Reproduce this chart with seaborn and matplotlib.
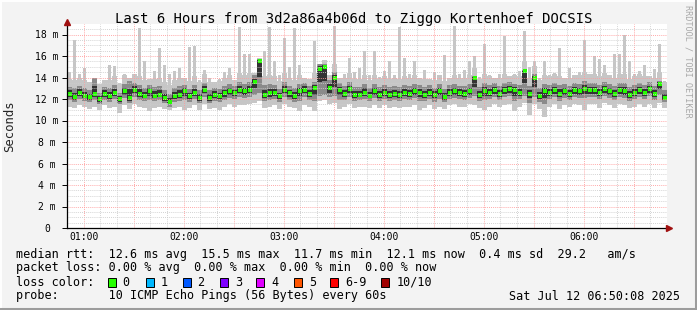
import numpy as np
import pandas as pd
import matplotlib
matplotlib.use('Agg')
import matplotlib.pyplot as plt
import seaborn as sns
from matplotlib.patches import Rectangle
from matplotlib.lines import Line2D

# ---------------- data ----------------
step_min = 3
start_min = 50
n_steps = 120
minutes = start_min + step_min * np.arange(n_steps)

median = [12.5,12.2,12.6,12.3,12.15,12.5,12.0,12.5,12.3,12.55,
          12.0,12.7,12.1,12.85,12.5,12.3,12.7,12.3,12.4,12.1,
          11.7,12.3,12.4,12.7,12.25,12.55,12.1,12.85,12.1,12.4,
          12.25,12.55,12.7,12.55,12.85,12.7,12.85,13.6,15.5,12.4,
          12.55,12.55,12.25,12.85,12.55,12.25,12.7,12.85,12.5,13.0,
          14.8,15.0,13.0,14.0,12.8,12.5,12.9,12.4,12.4,12.6,
          12.3,12.7,12.4,12.6,12.4,12.5,12.4,12.6,12.5,12.7,
          12.6,12.4,12.6,12.4,12.7,12.2,12.6,12.7,12.6,12.5,
          12.7,14.0,12.4,12.7,12.6,12.8,12.5,12.8,12.9,12.8,
          12.6,14.6,12.5,14.0,12.3,12.7,12.6,12.8,12.5,12.7,
          12.5,12.8,12.7,12.9,12.8,12.8,12.6,12.9,12.7,12.5,
          12.8,12.7,12.4,12.6,12.8,12.6,12.9,12.5,13.4,12.1]

ping_min = [11.3,11.2,11.4,11.3,11.1,11.3,11.0,11.4,11.2,11.3,
            10.7,11.4,11.1,11.5,11.3,11.2,10.9,11.2,11.3,11.1,
            11.0,11.2,11.3,11.0,11.2,11.4,11.0,11.5,11.1,11.2,
            11.0,11.3,11.5,11.3,11.4,11.4,11.5,11.6,11.8,11.2,
            11.3,11.4,11.1,11.5,11.3,11.2,10.9,11.4,11.3,10.9,
            11.8,11.9,11.5,11.6,11.1,11.3,11.5,11.2,11.3,11.3,
            11.2,11.4,11.2,11.4,11.2,11.3,11.2,11.3,11.3,11.4,
            11.0,11.2,11.4,11.1,11.3,11.1,11.4,11.5,11.3,11.3,
            11.5,11.4,11.2,11.0,11.3,11.5,11.3,11.4,11.5,10.9,
            11.3,11.6,10.5,11.5,11.1,10.3,11.3,11.5,11.1,11.4,
            11.3,11.5,11.4,11.0,11.5,11.5,11.2,11.6,11.4,11.2,
            11.5,11.4,11.2,11.3,11.5,11.3,11.5,11.2,11.6,11.2]

ping_lowq = [11.9,11.7,12.0,11.8,11.7,11.9,11.5,11.9,11.7,12.0,
             11.5,12.1,11.6,12.2,11.9,11.8,11.9,11.8,11.9,11.6,
             11.3,11.7,11.8,11.9,11.7,12.0,11.6,12.2,11.6,11.8,
             11.7,11.9,12.1,12.0,12.2,12.1,12.2,12.4,12.6,11.8,
             11.9,12.0,11.7,12.2,11.9,11.7,11.8,12.2,11.9,11.8,
             12.3,12.4,12.2,12.3,11.9,11.9,12.2,11.8,11.9,12.0,
             11.8,12.1,11.8,12.0,11.8,11.9,11.8,12.0,11.9,12.1,
             11.8,11.8,12.0,11.7,12.0,11.7,12.0,12.1,12.0,11.9,
             12.1,12.3,11.8,11.9,12.0,12.2,11.9,12.2,12.3,11.8,
             12.0,12.3,11.6,12.2,11.7,11.5,12.0,12.2,11.8,12.1,
             11.9,12.2,12.1,12.1,12.2,12.2,12.0,12.3,12.1,11.9,
             12.2,12.1,11.8,12.0,12.2,12.0,12.3,11.9,12.4,11.7]

ping_highq = [13.1,13.0,13.2,13.0,12.8,14.0,12.6,13.1,13.0,13.3,
              12.6,13.4,13.7,13.5,13.3,13.0,13.3,13.1,13.2,12.8,
              12.5,13.0,13.2,13.3,12.9,13.3,12.8,13.5,12.8,13.0,
              12.9,13.2,13.4,13.2,13.6,13.4,13.6,14.2,15.7,13.3,
              13.4,13.3,12.9,13.6,13.2,13.0,13.4,13.5,13.2,13.6,
              15.3,15.3,13.8,14.5,13.5,13.2,13.6,13.1,13.1,13.4,
              13.0,13.4,13.1,13.3,13.1,13.2,13.1,13.3,13.2,13.4,
              13.3,13.1,13.3,13.0,13.4,12.9,13.3,13.4,13.2,13.2,
              13.4,14.1,13.1,13.5,13.3,13.5,13.2,13.5,13.6,13.4,
              13.3,14.7,13.2,14.3,13.0,13.4,13.3,13.5,13.3,13.4,
              13.2,13.5,13.4,13.7,13.5,13.5,13.3,13.6,13.4,13.2,
              13.5,13.5,13.1,13.3,13.5,13.3,13.6,13.2,13.7,12.8]

ping_max = [14.5,17.5,14.3,14.9,13.6,14.0,13.4,13.8,15.2,15.1,
            13.5,14.3,14.0,14.3,18.6,15.5,13.9,14.6,16.7,15.2,
            14.3,14.6,14.9,14.0,16.8,16.9,13.8,14.7,14.0,13.6,
            13.9,14.5,14.9,13.8,18.7,16.2,16.2,14.4,15.8,16.5,
            18.7,15.5,14.2,17.7,15.0,18.6,15.2,14.0,13.9,17.4,
            15.3,15.6,14.2,18.8,14.0,14.3,15.8,14.5,14.9,16.5,
            14.2,16.5,14.0,14.6,15.5,14.2,18.7,15.8,14.3,15.5,
            14.0,14.7,13.9,14.5,14.2,16.1,14.0,18.8,14.3,14.7,
            15.5,16.0,14.0,17.1,14.2,14.0,14.3,17.9,14.1,14.3,
            14.6,18.3,15.0,15.5,14.0,15.5,14.2,14.4,16.7,14.0,
            14.9,14.2,14.5,17.5,14.3,16.0,15.7,15.2,14.2,16.2,
            16.2,18.0,15.5,14.3,14.6,15.2,14.1,14.8,17.1,13.7]

x_tick_minutes = [60, 120, 180, 240, 300, 360]
x_tick_labels = ['01:00', '02:00', '03:00', '04:00', '05:00', '06:00']
y_ticks = [0, 2, 4, 6, 8, 10, 12, 14, 16, 18]
y_tick_labels = ['0', '2 m', '4 m', '6 m', '8 m', '10 m', '12 m', '14 m', '16 m', '18 m']

title = 'Last 6 Hours from 3d2a86a4b06d to Ziggo Kortenhoef DOCSIS'
legend_rows = [
    'median rtt:  12.6 ms avg  15.5 ms max  11.7 ms min  12.1 ms now  0.4 ms sd  29.2   am/s',
    'packet loss: 0.00 % avg  0.00 % max  0.00 % min  0.00 % now',
    'loss color:',
    'probe:       10 ICMP Echo Pings (56 Bytes) every 60s',
]
loss_labels = ['0', '1', '2', '3', '4', '5', '6-9', '10/10']
loss_colors = ['#26ff00', '#00b8ff', '#0059ff', '#7e00ff', '#e000ff', '#ff5500', '#ff0000', '#a10000']
stamp = 'Sat Jul 12 06:50:08 2025'

# ---------------- drawing ----------------
W, H = 697, 310
sns.set_theme(style='white')
plt.rcParams['font.family'] = ['DejaVu Sans Mono', 'DejaVu Sans']

fig = plt.figure(figsize=(W / 100, H / 100), dpi=100, facecolor='#f3f3f3')
ax = fig.add_axes([67 / W, (H - 228) / H, 600 / W, (228 - 23.75) / H])
ax.set_facecolor('white')

df = pd.DataFrame(dict(t=minutes, med=median, lo=ping_min, q1=ping_lowq,
                       q3=ping_highq, hi=ping_max))
tt = np.append(df.t.values, df.t.values[-1] + step_min)


def ext(a):
    a = np.asarray(a, dtype=float)
    return np.append(a, a[-1])


light = '#c6c6c6'
# smoke body (full step width) and narrow outlier spikes
base_top = np.minimum(df.hi, df.q3 + 0.8)
ax.fill_between(tt, ext(df.lo), ext(base_top), step='post', color=light, lw=0, zorder=1)
spike = df.hi - base_top
ax.bar(df.t + step_min / 2, spike, bottom=base_top, width=1.3, color=light, lw=0, zorder=1)
ax.fill_between(tt, ext(df.q1), ext(df.q3), step='post', color='#8a8a8a', lw=0, zorder=2)
inner_lo = (df.q1 + df.med) / 2
inner_hi = (df.q3 + df.med) / 2
ax.fill_between(tt, ext(inner_lo), ext(inner_hi), step='post', color='#333333', lw=0, zorder=3)

sns.scatterplot(x=df.t + step_min / 2, y=df.med, marker='s', s=5, color='#26ff00',
                linewidth=0, ax=ax, zorder=5, legend=False)

ax.set_xlim(50, 410)
ax.set_ylim(0, 19)

# grid (rrdtool style, dotted, drawn over data)
dot = (0, (1, 1.3))
for m in np.arange(60, 410, 10):
    c = '#ff9c9c' if m % 30 == 0 else '#cdcdcd'
    ax.axvline(m, color=c, lw=0.65, ls=dot, zorder=6)
for yv in np.arange(0.5, 19, 0.5):
    c = '#ff9c9c' if abs(yv % 2) < 1e-9 else '#cdcdcd'
    ax.axhline(yv, color=c, lw=0.65, ls=dot, zorder=6)

for s in ['top', 'right']:
    ax.spines[s].set_visible(False)
for s in ['left', 'bottom']:
    ax.spines[s].set_color('black')
    ax.spines[s].set_linewidth(0.9)
    ax.spines[s].set_zorder(7)

ax.set_xticks(x_tick_minutes, x_tick_labels)
ax.set_yticks(y_ticks, y_tick_labels)
ax.tick_params(axis='x', length=0, pad=3, labelsize=7, colors='black')
ax.tick_params(axis='y', length=3.5, width=0.7, direction='out', pad=10.9,
               labelsize=7, colors='black', left=True)
for lab in ax.get_yticklabels():
    lab.set_ha('center')
ax.set_xlabel('')
ax.set_ylabel('')

# axis arrows
ax.plot([50], [19.15], marker='^', ms=4.5, color='#a01010', clip_on=False, zorder=8)
ax.plot([411.3], [0], marker='>', ms=4.5, color='#a01010', clip_on=False, zorder=8)


def px(x, y):
    return x / W, 1 - y / H


fig.text(*px(354, 19), title, ha='center', va='center', fontsize=10, color='black')
fig.text(*px(9.5, 126), 'Seconds', rotation=90, ha='center', va='center', fontsize=8.8)
fig.text(*px(688, 61), 'RRDTOOL / TOBI OETIKER', rotation=270, ha='center', va='center',
         fontsize=6.1, color='#a8a8a8')

row_y = [254.5, 268, 282.3, 296]
for txt, yv in zip(legend_rows, row_y):
    fig.text(*px(16, yv), txt, ha='left', va='center', fontsize=8.5, color='black')
fig.text(*px(680, row_y[3]), stamp, ha='right', va='center', fontsize=8.5, color='black')

sq_x = [108, 146, 183, 220, 256, 294, 330, 381]
lab_x = [122.7, 160.7, 197.3, 234.7, 271.7, 308.7, 345, 396.7]
for c, lab, sx, lx in zip(loss_colors, loss_labels, sq_x, lab_x):
    fig.add_artist(Rectangle((sx / W, 1 - 287 / H), 8 / W, 9 / H, transform=fig.transFigure,
                             facecolor=c, edgecolor='black', lw=0.7))
    fig.text(*px(lx, row_y[2]), lab, ha='left', va='center', fontsize=8.5, color='black')

# canvas frame
fig.add_artist(Line2D([0, 1], [1 - 0.5 / H, 1 - 0.5 / H], transform=fig.transFigure, color='#ffffff', lw=1.4))
fig.add_artist(Line2D([0.5 / W, 0.5 / W], [0, 1], transform=fig.transFigure, color='#ffffff', lw=1.4))
fig.add_artist(Line2D([1 - 1.5 / W, 1 - 1.5 / W], [0, 1], transform=fig.transFigure, color='#9c9c9c', lw=2.2))
fig.add_artist(Line2D([0, 1], [1.5 / H, 1.5 / H], transform=fig.transFigure, color='#9c9c9c', lw=2.2))

fig.savefig('out.png', dpi=100, facecolor=fig.get_facecolor())
